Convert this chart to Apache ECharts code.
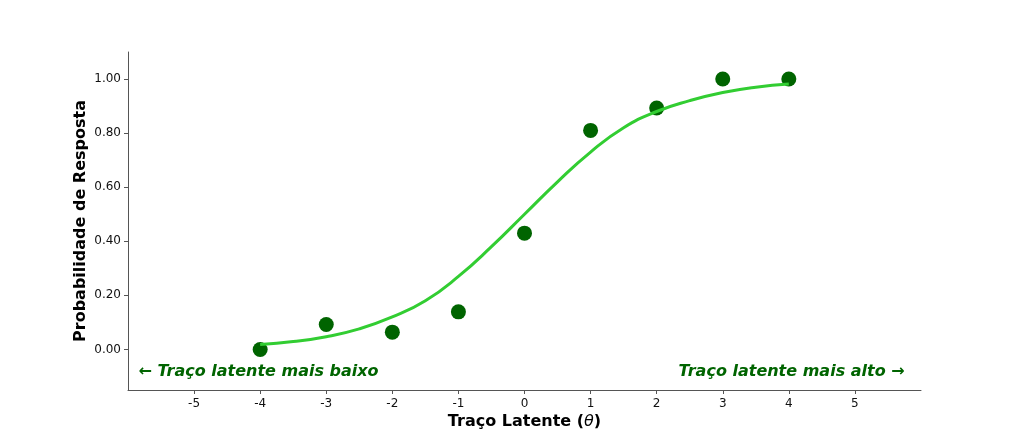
<!DOCTYPE html>
<html><head><meta charset="utf-8">
<script src="https://cdn.jsdelivr.net/npm/echarts@6/dist/echarts.min.js"></script>
<style>html,body{margin:0;padding:0;background:#fff}#c{width:1024px;height:439px}</style>
</head><body><div id="c"></div>
<script>
const thetaPoints = [-4, -3, -2, -1, 0, 1, 2, 3, 4];
const observedProb = [0.00, 0.092, 0.064, 0.139, 0.43, 0.81, 0.893, 1.00, 1.00];
const curveTheta = [-4, -3.5, -3, -2.5, -2, -1.5, -1, -0.5, 0, 0.5, 1, 1.5, 2, 2.5, 3, 3.5, 4];
const curveProb = [0.018, 0.029, 0.047, 0.076, 0.12, 0.18, 0.27, 0.38, 0.50, 0.62, 0.73, 0.82, 0.88, 0.92, 0.95, 0.97, 0.982];
const xTicks = [-5, -4, -3, -2, -1, 0, 1, 2, 3, 4, 5];
const yTicks = [0.0, 0.2, 0.4, 0.6, 0.8, 1.0];
const notes = [
  {x: -5.85, y: -0.084, text: '← Traço latente mais baixo', align: 'left'},
  {x: 5.76, y: -0.084, text: 'Traço latente mais alto →', align: 'right'}
];

const font = 'DejaVu Sans';
const chart = echarts.init(document.getElementById('c'));
chart.setOption({
  animation: false,
  grid: {left: 128, right: 103, top: 52, bottom: 49, containLabel: false, outerBoundsMode: 'none'},
  xAxis: {
    type: 'value', min: -6, max: 6, interval: 1,
    axisLine: {onZero: false, lineStyle: {color: '#555', width: 1}},
    axisTick: {show: true, length: 4, lineStyle: {color: '#555'}, customValues: xTicks},
    splitLine: {show: false},
    axisLabel: {color: '#111', fontFamily: font, fontSize: 12, margin: 8, customValues: xTicks,
      formatter: v => String(v)},
    name: '{a|Traço Latente (}{b|θ}{a|)}',
    nameLocation: 'middle', nameGap: 24, nameMoveOverlap: false,
    nameTextStyle: {rich: {
      a: {fontFamily: font, fontSize: 16, fontWeight: 'bold', color: '#000'},
      b: {fontFamily: font, fontSize: 16, fontStyle: 'italic', color: '#000'}
    }}
  },
  yAxis: {
    type: 'value', min: -0.15, max: 1.1,
    axisLine: {show: true, onZero: false, lineStyle: {color: '#555', width: 1}},
    axisTick: {show: true, length: 4, lineStyle: {color: '#555'}, customValues: yTicks},
    axisLabel: {color: '#111', fontFamily: font, fontSize: 12, margin: 7, customValues: yTicks,
      formatter: v => v.toFixed(2)},
    splitLine: {show: false},
    name: 'Probabilidade de Resposta',
    nameLocation: 'middle', nameGap: 39, nameMoveOverlap: false,
    nameTextStyle: {fontFamily: font, fontSize: 16, fontWeight: 'bold', color: '#000'}
  },
  series: [
    {
      type: 'line', smooth: true, showSymbol: false, symbol: 'none',
      data: curveTheta.map((t, i) => [t, curveProb[i]]),
      lineStyle: {color: '#32CD32', width: 3}, z: 3
    },
    {
      type: 'scatter', symbolSize: 15,
      data: thetaPoints.map((t, i) => [t, observedProb[i]]),
      itemStyle: {color: '#006400', opacity: 1}, z: 2
    },
    {
      type: 'scatter', symbolSize: 1, silent: true,
      itemStyle: {color: 'rgba(0,0,0,0)'},
      data: notes.map(n => ({value: [n.x, n.y], label: {
        show: true, position: n.align === 'left' ? 'right' : 'left', distance: 0,
        formatter: n.text,
        fontFamily: font, fontSize: 16, fontWeight: 'bold',
        fontStyle: 'italic', color: '#006400', opacity: 1
      }}))
    }
  ]
});
</script></body></html>
